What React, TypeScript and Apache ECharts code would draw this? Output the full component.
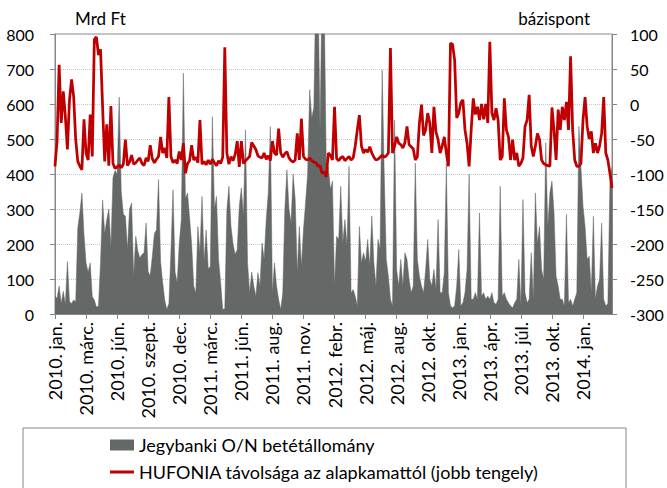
import React, { useEffect, useRef } from 'react';
import * as echarts from 'echarts';

// Category-axis tick labels (one every 15 data points)
const tickLabels = [
  '2010. jan.', '2010. márc.', '2010. jún.', '2010. szept.', '2010. dec.',
  '2011. márc.', '2011. jún.', '2011. aug.', '2011. nov.', '2012. febr.',
  '2012. máj.', '2012. aug.', '2012. okt.', '2013. jan.', '2013. ápr.',
  '2013. júl.', '2013. okt.', '2014. jan.',
];
const pointsPerTick = 15;

// Jegybanki O/N betétállomány (Mrd Ft), left axis
const depositValues = [
  50, 45, 80, 30, 65, 28, 150, 35, 30, 40, 35, 246, 289, 346, 227,
  146, 120, 146, 50, 40, 20, 22, 150, 326, 230, 270, 300, 190, 390, 410,
  400, 620, 350, 285, 280, 184, 300, 317, 108, 222, 180, 160, 170, 175, 260,
  120, 110, 165, 230, 240, 384, 150, 90, 40, 13, 30, 180, 355, 120, 90,
  200, 270, 688, 330, 346, 275, 200, 80, 60, 250, 175, 336, 150, 240, 130,
  135, 564, 300, 336, 156, 90, 13, 15, 298, 365, 250, 200, 170, 184, 308,
  360, 280, 526, 146, 61, 120, 80, 51, 118, 80, 203, 156, 270, 346, 535,
  61, 146, 80, 42, 13, 60, 300, 412, 300, 260, 400, 327, 118, 250, 137,
  241, 317, 400, 641, 560, 590, 950, 950, 526, 950, 900, 431, 420, 356, 380,
  80, 222, 213, 365, 203, 270, 194, 422, 61, 70, 51, 23, 250, 146, 175,
  150, 213, 137, 280, 146, 80, 213, 184, 697, 400, 156, 108, 42, 23, 554,
  127, 80, 156, 80, 175, 156, 99, 61, 80, 431, 156, 108, 80, 61, 127,
  213, 99, 80, 127, 70, 270, 61, 61, 118, 431, 61, 23, 18, 23, 80,
  184, 23, 32, 61, 127, 400, 42, 42, 61, 42, 289, 51, 61, 42, 51,
  42, 61, 32, 28, 42, 365, 51, 61, 42, 32, 23, 18, 32, 42, 156,
  23, 327, 61, 32, 42, 175, 42, 346, 200, 250, 127, 99, 489, 250, 346,
  380, 289, 108, 80, 42, 42, 23, 284, 32, 42, 23, 42, 61, 536, 420,
  308, 250, 156, 165, 61, 279, 42, 80, 99, 260, 42, 23, 30, 374, 420,
];

// HUFONIA távolsága az alapkamattól (bázispont), right axis
const spreadValues = [
  -89, -53, 56, -27, 18, -18, -65, 6, 35, 11, -51, -82, -89, -94, -22,
  -70, -80, -15, -75, 92, 96, 70, 78, -5, -82, -29, -88, -3, -85, -92,
  -90, -87, -91, -86, -51, -88, -83, -73, -86, -84, -80, -77, -85, -88, -77,
  -82, -59, -78, -84, -79, -75, -47, -70, -63, -77, 10, -75, -84, -80, -85,
  -68, -80, -56, -99, -85, -81, -59, -80, -76, -84, -23, -86, -82, -87, -80,
  -86, -79, -84, -88, -81, -85, -76, 81, -70, -86, -75, -81, -72, -53, -90,
  -53, -85, -81, -78, -75, -55, -60, -65, -74, -76, -77, -70, -79, -74, -81,
  -53, -70, -73, -35, -70, -76, -71, -68, -77, -81, -83, -80, -42, -80, -21,
  -75, -79, -80, -77, -81, -83, -84, -89, -88, -99, -97, -104, -70, -73, -80,
  -4, -78, -81, -77, -75, -81, -78, -75, -80, -77, -60, -37, -16, -60, -70,
  -65, -69, -61, -70, -76, -80, -79, -76, -73, -76, -74, -70, 80, -70, -60,
  -47, -56, -58, -63, -55, -32, -58, -61, -64, -80, -75, -27, -1, -45, -37,
  -13, -27, -70, -4, -40, -51, -70, -60, -47, -70, -89, 87, 85, 63, -20,
  -13, 2, 6, -37, -56, -89, -37, 8, -15, -4, -23, 0, -22, 0, -27,
  89, -13, -23, -6, -23, -80, -75, 8, -37, -47, -80, -51, -80, -70, -89,
  -85, -77, -32, -23, 13, -60, -75, -60, -42, -51, -80, -85, -87, -88, -89,
  -5, -37, -80, -8, -37, -4, -23, 3, -37, 68, -37, -80, -89, -89, -85,
  -23, 10, -32, -50, -39, -70, -56, -70, -60, -42, 10, -70, -80, -99, -120,
];

const categories = depositValues.map((_, i) => String(i));

const seriesNames = [
  'Jegybanki O/N betétállomány',
  'HUFONIA távolsága az alapkamattól (jobb tengely)',
];

export default function App() {
  const ref = useRef<HTMLDivElement>(null);
  useEffect(() => {
    if (!ref.current) return;
    const chart = echarts.init(ref.current, null, { renderer: 'svg' });
    const font = 'Lato, "Liberation Sans", sans-serif';
    const grey = '#646867';
    const red = '#C00000';
    const axisGrey = '#868686';
    const legendBase = {
      orient: 'horizontal',
      left: 110,
      itemWidth: 24,
      padding: 0,
      textStyle: { fontSize: 18, color: '#000', fontFamily: font },
    };
    chart.setOption({
      animation: false,
      textStyle: { fontFamily: font, color: '#000' },
      grid: {
        left: 55, right: 55, top: 34, bottom: 174,
        show: true, borderColor: axisGrey, borderWidth: 1,
      },
      xAxis: {
        type: 'category',
        data: categories,
        boundaryGap: false,
        axisLine: { lineStyle: { color: axisGrey } },
        axisTick: { interval: pointsPerTick - 1, length: 5, lineStyle: { color: axisGrey } },
        axisLabel: {
          interval: pointsPerTick - 1,
          rotate: 90,
          margin: 8,
          fontSize: 18,
          color: '#000',
          fontFamily: font,
          formatter: (_v: string, i: number) =>
            i % pointsPerTick === 0 ? tickLabels[i / pointsPerTick] ?? '' : '',
        },
        splitLine: { show: false },
      },
      yAxis: [
        {
          type: 'value',
          min: 0, max: 800, interval: 100,
          name: 'Mrd Ft',
          nameLocation: 'end',
          nameGap: 7,
          nameTextStyle: { align: 'left', padding: [0, 0, 0, 20], fontSize: 17, color: '#000', fontFamily: font },
          axisLine: { show: true, lineStyle: { color: axisGrey } },
          axisTick: { show: true, length: 5, lineStyle: { color: axisGrey } },
          axisLabel: { margin: 21, fontSize: 16, color: '#000', fontFamily: font },
          splitLine: { show: true, lineStyle: { type: 'dotted', color: '#c8c8c8', width: 1 } },
        },
        {
          type: 'value',
          position: 'right',
          min: -300, max: 100, interval: 50,
          name: 'bázispont',
          nameLocation: 'end',
          nameGap: 7,
          nameTextStyle: { align: 'right', padding: [0, 22, 0, 0], fontSize: 17, color: '#000', fontFamily: font },
          axisLine: { show: true, lineStyle: { color: axisGrey } },
          axisTick: { show: true, length: 5, lineStyle: { color: axisGrey } },
          axisLabel: { margin: 18, fontSize: 16, color: '#000', fontFamily: font },
          splitLine: { show: false },
        },
      ],
      legend: [
        { ...legendBase, top: 436, itemHeight: 11, data: [{ name: seriesNames[0], icon: 'rect' }] },
        {
          ...legendBase, top: 463, itemHeight: 3,
          data: [{ name: seriesNames[1], icon: 'rect', itemStyle: { color: red } }],
        },
      ],
      graphic: [
        {
          type: 'rect',
          shape: { x: 23, y: 428, width: 603, height: 80 },
          style: { fill: 'none', stroke: axisGrey, lineWidth: 1 },
          silent: true,
        },
      ],
      series: [
        {
          name: seriesNames[0],
          type: 'line',
          data: depositValues,
          symbol: 'none',
          lineStyle: { width: 0.5, color: grey },
          itemStyle: { color: grey },
          areaStyle: { color: grey, opacity: 1 },
          z: 1,
        },
        {
          name: seriesNames[1],
          type: 'line',
          yAxisIndex: 1,
          data: spreadValues,
          symbol: 'none',
          showSymbol: false,
          lineStyle: { width: 2.75, color: red },
          itemStyle: { color: red },
          z: 3,
        },
      ],
    });
    return () => chart.dispose();
  }, []);
  return (
    <div
      ref={ref}
      style={{ position: 'absolute', left: 0, top: 0, width: 667, height: 488 }}
    />
  );
}
